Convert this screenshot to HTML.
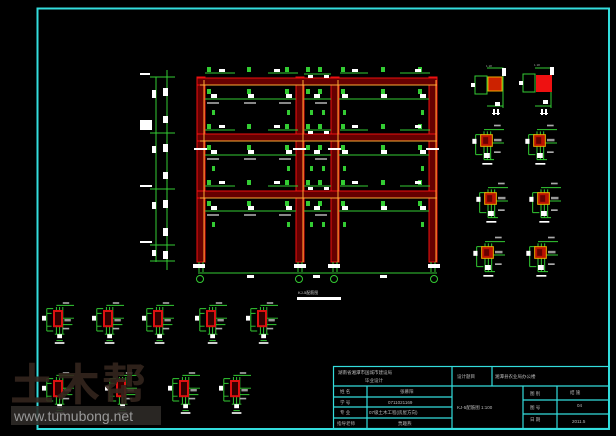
<!DOCTYPE html>
<html><head><meta charset="utf-8"><style>
html,body{margin:0;padding:0;background:#000;}
svg{display:block}
text{font-family:"Liberation Sans","Noto Sans CJK SC",sans-serif;}
</style></head><body>
<svg width="616" height="436" viewBox="0 0 616 436" xmlns="http://www.w3.org/2000/svg">
<defs>
<symbol id="sec" viewBox="0 0 40 52" width="32" height="42" overflow="visible">
 <g stroke="#3c3" stroke-width="1.2" fill="none">
  <path d="M6 8h8M6 8v28M6 36h8M6 14h6M6 30h6"/>
  <path d="M18 6v34M22 6v34M26 6v34M18 4h22M26 20h14M26 28h12M16 40h12M18 48h8"/>
 </g>
 <rect x="15" y="11" width="10" height="19" fill="#300" stroke="#d11" stroke-width="2.5"/>
 <rect x="0" y="17" width="5" height="6" fill="#fff"/>
 <rect x="19" y="40" width="6" height="5" fill="#fff"/>
 <rect x="16" y="50" width="12" height="2" fill="#fff"/>
 <rect x="28" y="21" width="8" height="3" fill="#999"/>
 <rect x="26" y="0" width="8" height="2" fill="#aaa"/>
 <rect x="26" y="32" width="8" height="2" fill="#aaa"/>
</symbol>
<symbol id="sec2" viewBox="0 0 40 48" width="34" height="40" overflow="visible">
 <g stroke="#3c3" stroke-width="1.2" fill="none">
  <path d="M4 8h8M4 8v24M4 32h8M14 4v34M18 4v34M22 4v34M14 2h24M22 18h16M14 38h12"/>
 </g>
 <rect x="10" y="8" width="14" height="14" fill="#b10" stroke="#ea0" stroke-width="1.2"/>
 <rect x="13" y="11" width="6" height="8" fill="#600"/>
 <rect x="0" y="13" width="5" height="6" fill="#fff"/>
 <rect x="14" y="30" width="7" height="6" fill="#fff"/>
 <rect x="12" y="42" width="12" height="2" fill="#fff"/>
 <rect x="26" y="13" width="9" height="3" fill="#999"/>
 <rect x="26" y="-4" width="8" height="2" fill="#aaa"/>
 <rect x="26" y="28" width="8" height="2" fill="#aaa"/>
</symbol>
</defs>

<rect x="37.5" y="8.5" width="571.5" height="420.5" fill="none" stroke="#3dd" stroke-width="2"/>

<g stroke="#3c3" stroke-width="1">
 <line x1="156" y1="77" x2="156" y2="262"/><line x1="167" y1="70" x2="167" y2="270"/>
 <line x1="150" y1="77" x2="175" y2="77"/><line x1="150" y1="133" x2="175" y2="133"/>
 <line x1="150" y1="189" x2="175" y2="189"/><line x1="150" y1="245" x2="175" y2="245"/>
 <line x1="150" y1="261" x2="175" y2="261"/>
</g>
<g fill="#fff">
 <rect x="140" y="73" width="10" height="2"/><rect x="140" y="185" width="12" height="2"/><rect x="140" y="241" width="12" height="2"/>
 <rect x="140" y="120" width="12" height="10"/>
 <rect x="152" y="90" width="4" height="8"/><rect x="152" y="146" width="4" height="7"/><rect x="152" y="202" width="4" height="7"/><rect x="152" y="250" width="4" height="6"/>
 <rect x="163" y="88" width="5" height="8"/><rect x="163" y="116" width="5" height="7"/><rect x="163" y="144" width="5" height="8"/><rect x="163" y="172" width="5" height="7"/><rect x="163" y="200" width="5" height="8"/><rect x="163" y="228" width="5" height="8"/><rect x="163" y="251" width="5" height="8"/>
</g>

<g>
 <rect x="197" y="77" width="8" height="185" fill="#600" stroke="#e11" stroke-width="1"/>
 <rect x="296" y="77" width="8" height="185" fill="#600" stroke="#e11" stroke-width="1"/>
 <rect x="331" y="77" width="8" height="185" fill="#600" stroke="#e11" stroke-width="1"/>
 <rect x="429" y="77" width="8" height="185" fill="#600" stroke="#e11" stroke-width="1"/>
 <g fill="#600" stroke="#e11" stroke-width="1">
  <rect x="197" y="78" width="240" height="7"/><rect x="197" y="134" width="240" height="7"/><rect x="197" y="191" width="240" height="7"/>
 </g>
 <g stroke="#fa3" stroke-width="1"><line x1="204" y1="80" x2="204" y2="262"/><line x1="303" y1="80" x2="303" y2="262"/><line x1="338" y1="80" x2="338" y2="262"/><line x1="436" y1="80" x2="436" y2="262"/>
 <line x1="200" y1="85" x2="437" y2="85"/><line x1="200" y1="141" x2="437" y2="141"/><line x1="200" y1="198" x2="437" y2="198"/></g>
 <g stroke="#3c3" stroke-width="1">
  <line x1="205" y1="73" x2="235" y2="73"/><line x1="268" y1="73" x2="298" y2="73"/><line x1="340" y1="73" x2="368" y2="73"/><line x1="400" y1="73" x2="430" y2="73"/><line x1="304" y1="74" x2="331" y2="74"/>
  <line x1="205" y1="99" x2="296" y2="99"/><line x1="304" y1="99" x2="331" y2="99"/><line x1="339" y1="99" x2="429" y2="99"/>
  <line x1="205" y1="130" x2="235" y2="130"/><line x1="268" y1="130" x2="298" y2="130"/><line x1="340" y1="130" x2="368" y2="130"/><line x1="400" y1="130" x2="430" y2="130"/><line x1="304" y1="130" x2="331" y2="130"/>
  <line x1="205" y1="155" x2="296" y2="155"/><line x1="304" y1="155" x2="331" y2="155"/><line x1="339" y1="155" x2="429" y2="155"/>
  <line x1="205" y1="186" x2="235" y2="186"/><line x1="268" y1="186" x2="298" y2="186"/><line x1="340" y1="186" x2="368" y2="186"/><line x1="400" y1="186" x2="430" y2="186"/><line x1="304" y1="186" x2="331" y2="186"/>
  <line x1="205" y1="211" x2="296" y2="211"/><line x1="304" y1="211" x2="331" y2="211"/><line x1="339" y1="211" x2="429" y2="211"/>
  <line x1="198" y1="273" x2="437" y2="273"/>
  <circle cx="200" cy="279" r="3.5" fill="none"/><circle cx="299" cy="279" r="3.5" fill="none"/><circle cx="334" cy="279" r="3.5" fill="none"/><circle cx="434" cy="279" r="3.5" fill="none"/>
  <path d="M199 262v10M203 262v10M298 262v10M302 262v10M333 262v10M337 262v10M431 262v10M435 262v10"/>
 </g>
 <g fill="#3c3">
  <rect x="207" y="67" width="4" height="5"/><rect x="247" y="67" width="4" height="5"/><rect x="285" y="67" width="4" height="5"/><rect x="306" y="67" width="4" height="5"/><rect x="318" y="67" width="4" height="5"/><rect x="341" y="67" width="4" height="5"/><rect x="381" y="67" width="4" height="5"/><rect x="418" y="67" width="4" height="5"/>
  <rect x="207" y="89" width="4" height="5"/><rect x="247" y="89" width="4" height="5"/><rect x="285" y="89" width="4" height="5"/><rect x="306" y="89" width="4" height="5"/><rect x="318" y="89" width="4" height="5"/><rect x="341" y="89" width="4" height="5"/><rect x="381" y="89" width="4" height="5"/><rect x="418" y="89" width="4" height="5"/>
  <rect x="207" y="124" width="4" height="5"/><rect x="247" y="124" width="4" height="5"/><rect x="285" y="124" width="4" height="5"/><rect x="306" y="124" width="4" height="5"/><rect x="318" y="124" width="4" height="5"/><rect x="341" y="124" width="4" height="5"/><rect x="381" y="124" width="4" height="5"/><rect x="418" y="124" width="4" height="5"/>
  <rect x="207" y="145" width="4" height="5"/><rect x="247" y="145" width="4" height="5"/><rect x="285" y="145" width="4" height="5"/><rect x="306" y="145" width="4" height="5"/><rect x="318" y="145" width="4" height="5"/><rect x="341" y="145" width="4" height="5"/><rect x="381" y="145" width="4" height="5"/><rect x="418" y="145" width="4" height="5"/>
  <rect x="207" y="180" width="4" height="5"/><rect x="247" y="180" width="4" height="5"/><rect x="285" y="180" width="4" height="5"/><rect x="306" y="180" width="4" height="5"/><rect x="318" y="180" width="4" height="5"/><rect x="341" y="180" width="4" height="5"/><rect x="381" y="180" width="4" height="5"/><rect x="418" y="180" width="4" height="5"/>
  <rect x="207" y="201" width="4" height="5"/><rect x="247" y="201" width="4" height="5"/><rect x="285" y="201" width="4" height="5"/><rect x="306" y="201" width="4" height="5"/><rect x="318" y="201" width="4" height="5"/><rect x="341" y="201" width="4" height="5"/><rect x="381" y="201" width="4" height="5"/><rect x="418" y="201" width="4" height="5"/>
  <rect x="212" y="110" width="3" height="5"/><rect x="287" y="110" width="3" height="5"/><rect x="310" y="110" width="3" height="5"/><rect x="322" y="110" width="3" height="5"/><rect x="343" y="110" width="3" height="5"/><rect x="421" y="110" width="3" height="5"/>
  <rect x="212" y="166" width="3" height="5"/><rect x="287" y="166" width="3" height="5"/><rect x="310" y="166" width="3" height="5"/><rect x="322" y="166" width="3" height="5"/><rect x="343" y="166" width="3" height="5"/><rect x="421" y="166" width="3" height="5"/>
  <rect x="212" y="222" width="3" height="5"/><rect x="287" y="222" width="3" height="5"/><rect x="310" y="222" width="3" height="5"/><rect x="322" y="222" width="3" height="5"/><rect x="343" y="222" width="3" height="5"/><rect x="421" y="222" width="3" height="5"/>
 </g>
 <g fill="#fff">
  <rect x="219" y="69" width="6" height="3"/><rect x="274" y="69" width="6" height="3"/><rect x="308" y="75" width="5" height="3"/><rect x="324" y="75" width="5" height="3"/><rect x="352" y="69" width="6" height="3"/><rect x="415" y="69" width="6" height="3"/>
  <rect x="211" y="94" width="6" height="4"/><rect x="248" y="94" width="6" height="4"/><rect x="286" y="94" width="6" height="4"/><rect x="314" y="94" width="6" height="4"/><rect x="342" y="94" width="6" height="4"/><rect x="381" y="94" width="6" height="4"/><rect x="420" y="94" width="6" height="4"/>
  <rect x="219" y="125" width="6" height="3"/><rect x="274" y="125" width="6" height="3"/><rect x="308" y="131" width="5" height="3"/><rect x="324" y="131" width="5" height="3"/><rect x="352" y="125" width="6" height="3"/><rect x="415" y="125" width="6" height="3"/>
  <rect x="211" y="150" width="6" height="4"/><rect x="248" y="150" width="6" height="4"/><rect x="286" y="150" width="6" height="4"/><rect x="314" y="150" width="6" height="4"/><rect x="342" y="150" width="6" height="4"/><rect x="381" y="150" width="6" height="4"/><rect x="420" y="150" width="6" height="4"/>
  <rect x="219" y="181" width="6" height="3"/><rect x="274" y="181" width="6" height="3"/><rect x="308" y="187" width="5" height="3"/><rect x="324" y="187" width="5" height="3"/><rect x="352" y="181" width="6" height="3"/><rect x="415" y="181" width="6" height="3"/>
  <rect x="211" y="206" width="6" height="4"/><rect x="248" y="206" width="6" height="4"/><rect x="286" y="206" width="6" height="4"/><rect x="314" y="206" width="6" height="4"/><rect x="342" y="206" width="6" height="4"/><rect x="381" y="206" width="6" height="4"/><rect x="420" y="206" width="6" height="4"/>
  <rect x="194" y="148" width="13" height="2"/><rect x="293" y="148" width="13" height="2"/><rect x="328" y="148" width="13" height="2"/><rect x="426" y="148" width="13" height="2"/>
  <rect x="193" y="264" width="12" height="4"/><rect x="294" y="264" width="12" height="4"/><rect x="328" y="264" width="12" height="4"/><rect x="428" y="264" width="12" height="4"/>
  <rect x="247" y="275" width="7" height="3"/><rect x="313" y="275" width="7" height="3"/><rect x="380" y="275" width="7" height="3"/>
  <rect x="297" y="297" width="44" height="3"/>
 </g>
 <g fill="#888"><rect x="207" y="102" width="12" height="2"/><rect x="244" y="102" width="12" height="2"/><rect x="279" y="102" width="12" height="2"/><rect x="315" y="102" width="12" height="2"/>
 <rect x="207" y="158" width="12" height="2"/><rect x="244" y="158" width="12" height="2"/><rect x="279" y="158" width="12" height="2"/><rect x="315" y="158" width="12" height="2"/>
 <rect x="207" y="214" width="12" height="2"/><rect x="244" y="214" width="12" height="2"/><rect x="279" y="214" width="12" height="2"/><rect x="315" y="214" width="12" height="2"/></g>
 <text x="298" y="294" font-size="4" fill="#ccc">KJ-5配筋图</text>
</g>

<g>
 <g stroke="#3c3" fill="none"><rect x="475" y="76" width="12" height="18"/><path d="M487 68h16v40M487 106h16"/><rect x="523" y="74" width="12" height="18"/><path d="M535 68h16v40M535 106h16"/></g>
 <rect x="488" y="77" width="14" height="14" fill="#c20" stroke="#ea0"/>
 <rect x="536" y="75" width="16" height="17" fill="#e11"/>
 <g fill="#fff"><rect x="471" y="83" width="4" height="4"/><rect x="519" y="81" width="4" height="4"/><rect x="502" y="68" width="4" height="8"/><rect x="550" y="67" width="4" height="8"/><rect x="495" y="102" width="5" height="4"/><rect x="543" y="100" width="5" height="4"/><rect x="492" y="113" width="8" height="1"/><rect x="540" y="113" width="8" height="1"/><rect x="493" y="109" width="2" height="6"/><rect x="497" y="109" width="2" height="6"/><rect x="541" y="109" width="2" height="6"/><rect x="545" y="109" width="2" height="6"/></g>
 <text x="486" y="67" font-size="3" fill="#aaa">1 18</text><text x="534" y="66" font-size="3" fill="#aaa">1 18</text>
 <use href="#sec2" x="472" y="128"/><use href="#sec2" x="525" y="128"/>
 <use href="#sec2" x="476" y="186"/><use href="#sec2" x="529" y="186"/>
 <use href="#sec2" x="473" y="240"/><use href="#sec2" x="526" y="240"/>
</g>

<use href="#sec" x="42" y="302"/><use href="#sec" x="92" y="302"/><use href="#sec" x="142" y="302"/><use href="#sec" x="195" y="302"/><use href="#sec" x="246" y="302"/>
<use href="#sec" x="42" y="372"/><use href="#sec" x="105" y="372"/><use href="#sec" x="168" y="372"/><use href="#sec" x="219" y="372"/>

<text x="10" y="400" font-size="44" font-weight="bold" fill="#33251d" fill-opacity="0.9" font-family="'Noto Sans CJK SC',sans-serif" letter-spacing="2">土木帮</text>
<rect x="11" y="406" width="150" height="19" fill="#2e2a27" fill-opacity="0.9"/>
<text x="14" y="421" font-size="14" fill="#999" font-family="'DejaVu Sans Mono',monospace">www.tumubong.net</text>

<g stroke="#3dd" stroke-width="1.2" fill="none">
 <rect x="333.5" y="366.5" width="275.5" height="62"/>
 <line x1="333" y1="386" x2="609" y2="386"/>
 <line x1="333" y1="397" x2="452" y2="397"/><line x1="333" y1="407" x2="452" y2="407"/><line x1="333" y1="418" x2="452" y2="418"/>
 <line x1="367" y1="386" x2="367" y2="429"/><line x1="452" y1="366" x2="452" y2="429"/><line x1="492" y1="366" x2="492" y2="386"/>
 <line x1="523" y1="386" x2="523" y2="429"/><line x1="557" y1="386" x2="557" y2="429"/>
 <line x1="523" y1="400" x2="609" y2="400"/><line x1="523" y1="414" x2="609" y2="414"/>
</g>
<g fill="#bbb" font-size="4.5">
 <text x="338" y="374">湖南省湘潭市国城市建设局</text>
 <text x="365" y="382">毕业设计</text>
 <text x="457" y="378">设计题目</text>
 <text x="495" y="378">湘潭县农业局办公楼</text>
 <text x="340" y="393">姓 名</text><text x="400" y="393">张慕阳</text>
 <text x="340" y="404">学 号</text><text x="388" y="404">0711021169</text>
 <text x="340" y="414">专 业</text><text x="369" y="414">07级土木工程(房屋方向)</text>
 <text x="337" y="425">指导老师</text><text x="398" y="425">贾趣燕</text>
 <text x="457" y="409">KJ-5配筋图 1:100</text>
 <text x="530" y="395">图 别</text><text x="570" y="394">结 施</text>
 <text x="530" y="409">图 号</text><text x="577" y="407">04</text>
 <text x="530" y="421">日 期</text><text x="572" y="423">2011.5</text>
</g>
</svg>
</body></html>
